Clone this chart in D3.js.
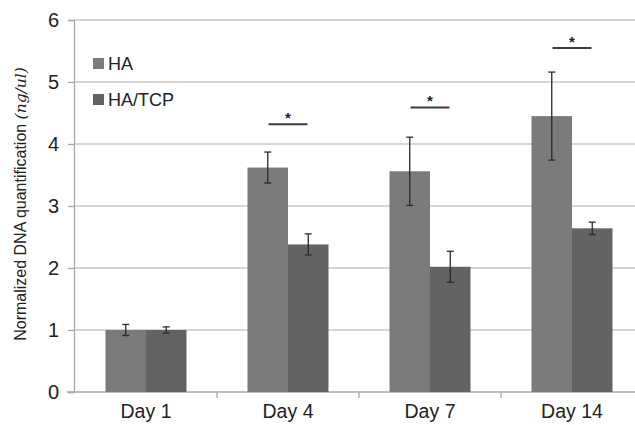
<!DOCTYPE html>
<html>
<head>
<meta charset="utf-8">
<script src="https://d3js.org/d3.v7.min.js"></script>
<style>
  body { margin: 0; background: #fff; }
  svg { display: block; font-family: "Liberation Sans", Arial, sans-serif; }
</style>
</head>
<body>
<svg id="chart" width="635" height="425"></svg>
<script>
// data
const days = ["Day 1", "Day 4", "Day 7", "Day 14"];
const series = ["HA", "HA/TCP"];
const haMean = [1.0, 3.62, 3.56, 4.45];
const haErr = [0.09, 0.25, 0.55, 0.71];
const tcpMean = [1.0, 2.38, 2.02, 2.64];
const tcpErr = [0.05, 0.17, 0.25, 0.10];
const sigDays = ["Day 4", "Day 7", "Day 14"];
const sigLevel = [4.32, 4.59, 5.55];
const yTicks = [0, 1, 2, 3, 4, 5, 6];
const colors = ["#7b7b7b", "#636363"];

const svg = d3.select("#chart");

const x = d3.scaleBand().domain(days).range([75, 643]);
const xInner = d3.scaleBand().domain(series).range([0, 81])
  .paddingInner(0).paddingOuter(0);
const y = d3.scaleLinear().domain([0, 6]).range([392, 20]);

const barW = xInner.bandwidth();
const groupOffset = (x.bandwidth() - 81) / 2;

// gridlines
svg.append("g")
  .selectAll("line")
  .data(yTicks.filter(d => d > 0))
  .enter().append("line")
  .attr("x1", 74).attr("x2", 635)
  .attr("y1", d => y(d)).attr("y2", d => y(d))
  .attr("stroke", "#c9c9c9").attr("stroke-width", 1.3);

// y axis
const yAxis = svg.append("g")
  .attr("transform", "translate(74,0)")
  .call(d3.axisLeft(y).tickValues(yTicks).tickFormat(d3.format("d"))
    .tickSize(6).tickPadding(9));
yAxis.select(".domain").attr("stroke", "#a8a8a8").attr("stroke-width", 1.3);
yAxis.selectAll(".tick line").attr("stroke", "#a8a8a8").attr("stroke-width", 1.3);
yAxis.selectAll("text").attr("font-size", 20).attr("fill", "#222")
  .attr("font-family", "Liberation Sans, Arial, sans-serif");

// x axis
const xAxis = svg.append("g")
  .attr("transform", "translate(0,392)")
  .call(d3.axisBottom(x).tickSize(0).tickPadding(12));
xAxis.select(".domain").attr("stroke", "#a8a8a8").attr("stroke-width", 1.3)
  .attr("d", "M67,0H635");
xAxis.selectAll("text").attr("font-size", 19.5).attr("fill", "#222")
  .attr("font-family", "Liberation Sans, Arial, sans-serif");

// category boundary ticks
svg.append("g")
  .selectAll("line")
  .data(days.slice(1))
  .enter().append("line")
  .attr("x1", d => x(d)).attr("x2", d => x(d))
  .attr("y1", 392).attr("y2", 398)
  .attr("stroke", "#a8a8a8").attr("stroke-width", 1.3);

// bars
const rows = [];
days.forEach((d, i) => {
  rows.push({ day: d, s: "HA", v: haMean[i], e: haErr[i], c: colors[0] });
  rows.push({ day: d, s: "HA/TCP", v: tcpMean[i], e: tcpErr[i], c: colors[1] });
});

svg.append("g")
  .selectAll("rect")
  .data(rows)
  .enter().append("rect")
  .attr("x", d => x(d.day) + groupOffset + xInner(d.s))
  .attr("y", d => y(d.v))
  .attr("width", barW)
  .attr("height", d => y(0) - y(d.v))
  .attr("fill", d => d.c);

// error bars
const eb = svg.append("g").attr("stroke", "#2a2a2a").attr("stroke-width", 1.3);
rows.forEach(d => {
  const cx = x(d.day) + groupOffset + xInner(d.s) + barW / 2;
  eb.append("line").attr("x1", cx).attr("x2", cx)
    .attr("y1", y(d.v + d.e)).attr("y2", y(d.v - d.e));
  [d.v + d.e, d.v - d.e].forEach(v => {
    eb.append("line").attr("x1", cx - 3.5).attr("x2", cx + 3.5)
      .attr("y1", y(v)).attr("y2", y(v));
  });
});

// significance marks
sigDays.forEach((d, i) => {
  const cx = x(d) + x.bandwidth() / 2;
  svg.append("line")
    .attr("x1", cx - 19.5).attr("x2", cx + 19.5)
    .attr("y1", y(sigLevel[i])).attr("y2", y(sigLevel[i]))
    .attr("stroke", "#3a3a3a").attr("stroke-width", 2);
  svg.append("text")
    .attr("x", cx).attr("y", y(sigLevel[i]) - 1)
    .attr("text-anchor", "middle")
    .attr("font-size", 15).attr("font-weight", "bold").attr("fill", "#222")
    .text("*");
});

// legend
const legend = svg.append("g");
series.forEach((s, i) => {
  const ly = 58 + i * 36;
  legend.append("rect").attr("x", 93).attr("y", ly)
    .attr("width", 11).attr("height", 11).attr("fill", colors[i]);
  legend.append("text").attr("x", 108).attr("y", ly + 12)
    .attr("font-size", 18).attr("fill", "#222").text(s);
});

// y axis title
const title = svg.append("text")
  .attr("transform", "translate(26,204) rotate(-90)")
  .attr("text-anchor", "middle")
  .attr("font-size", 16).attr("fill", "#222");
title.append("tspan").text("Normalized  DNA quantification ");
title.append("tspan").attr("font-family", "DejaVu Serif, serif")
  .attr("font-style", "italic").attr("font-size", 15.5).text("(ng/ul)");
</script>
</body>
</html>
